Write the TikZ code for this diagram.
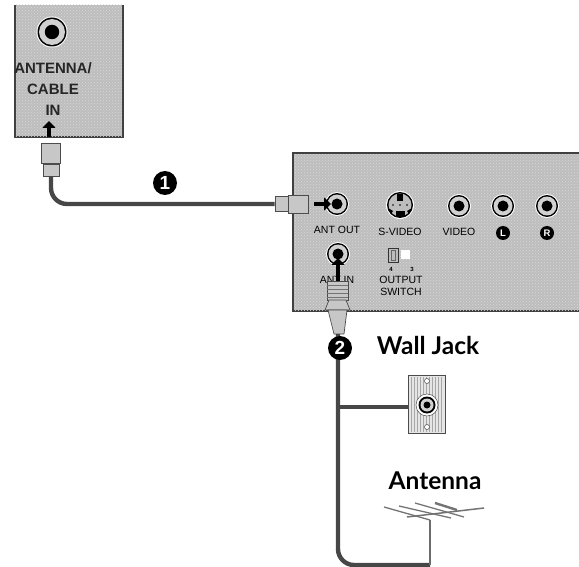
\documentclass[tikz,border=0pt]{standalone}
\usepackage{fontspec}
\setmainfont{Liberation Sans}
\newfontfamily\titlefont{Lato}
\usetikzlibrary{patterns,arrows.meta,calc}
\definecolor{panelgray}{gray}{0.74}
\definecolor{cablegray}{gray}{0.28}
\tikzset{
  panel/.style={draw=black!75,line width=1.1pt,fill=panelgray},
  cable/.style={draw=cablegray,line width=4.4pt,rounded corners=16pt},
  thincable/.style={draw=cablegray!80,line width=2.4pt},
  plug/.style={draw=black!70,line width=0.7pt,fill=black!22},
  bigarrow/.style={line width=4.5pt,-{Triangle[length=7pt,width=13pt]}},
  portlabel/.style={font=\fontsize{10.5}{11}\selectfont,inner sep=0pt},
  inlabel/.style={font=\bfseries\fontsize{15}{16}\selectfont,text=black!85,inner sep=0pt},
  titlelabel/.style={font=\titlefont\bfseries\fontsize{24.5}{26}\selectfont,inner sep=0pt},
  bigbadge/.style={circle,fill=black,text=white,inner sep=0pt,minimum size=24pt,font=\bfseries\fontsize{19}{19}\selectfont},
  smallbadge/.style={circle,fill=black,text=white,inner sep=0pt,minimum size=14pt,font=\bfseries\fontsize{9.5}{9.5}\selectfont},
  ring/.style={circle,inner sep=0pt,minimum size=#1}
}
\newcommand{\rcajack}[3]{%
  \node[ring=#3+2,fill=white] (#1) at (#2) {};
  \node[ring=#3,fill=black] at (#2) {};
  \node[ring=#3-3,fill=panelgray!70] at (#2) {};
  \node[ring=#3/2,fill=black] at (#2) {};
}
\begin{document}
\begin{tikzpicture}[x=1pt,y=-1pt]
\useasboundingbox (0,0) rectangle (579,567);
% back panel of the set
\draw[panel] (15,5) -- (15,137) -- (123,137) -- (123,5);
\fill[pattern=crosshatch dots,pattern color=white!85!black] (15.5,5) rectangle (122.5,136.5);
\rcajack{tvjack}{52,32}{29}
\node[inlabel] (antlabel) at (53,68) {ANTENNA/};
\node[inlabel] (cablelabel) at (53,89) {CABLE};
\node[inlabel] (inlabel) at (53,110) {IN};
% box panel
\draw[panel] (579,153) -- (293,153) -- (293,311) -- (579,311);
\fill[pattern=crosshatch dots,pattern color=white!85!black] (294,154) rectangle (579,310);
\rcajack{antout}{337,204}{22}
\rcajack{antin}{338,254}{22}
\rcajack{video}{459,206}{22}
\rcajack{audiol}{503,206}{22}
\rcajack{audior}{547,206}{22}
% s-video socket
\node[ring=28,fill=white] (svideo) at (400,205) {};
\node[ring=26,fill=black] at (400,205) {};
\node[ring=23,fill=panelgray] at (400,205) {};
\fill (397,194) rectangle (403,201);
\fill (396,211) rectangle (405,217);
\fill (391,214) -- (388,208) -- (393,211) -- cycle;
\fill (409,214) -- (412,208) -- (407,211) -- cycle;
\node[ring=1.8,fill=black] at (393,205) {};
\node[ring=1.8,fill=black] at (407,205) {};
\node[ring=1.8,fill=black] at (400,205) {};
\node[portlabel] (antoutlabel) at (337,230) {ANT OUT};
\node[portlabel] (svideolabel) at (400,232) {S-VIDEO};
\node[portlabel] (videolabel) at (459,232) {VIDEO};
\node[smallbadge] (llabel) at (503,233) {L};
\node[smallbadge] (rlabel) at (547,233) {R};
\node[portlabel] (antinlabel) at (337,280) {ANT IN};
\node[portlabel] (outlabel) at (401,280) {OUTPUT};
\node[portlabel] (switchlabel) at (401,292) {SWITCH};
% output switch
\node[draw=black!80,fill=panelgray,line width=0.8pt,minimum width=10pt,minimum height=14pt,inner sep=0pt] (swleft) at (393,255) {};
\node[draw=black!60,minimum width=4pt,minimum height=10pt,inner sep=0pt] at (393,255) {};
\node[fill=white,minimum width=9pt,minimum height=9pt,inner sep=0pt] (swright) at (405,255) {};
\node[font=\bfseries\fontsize{6}{6}\selectfont,inner sep=0pt] (chfour) at (391,269) {4};
\node[font=\bfseries\fontsize{6}{6}\selectfont,inner sep=0pt] (chthree) at (412,269) {3};
% wall plate
\node[draw=black!70,fill=black!10,line width=0.9pt,minimum width=37pt,minimum height=58pt,inner sep=0pt] (wallplate) at (427,404) {};
\fill[pattern=vertical lines,pattern color=black!35] (411,377) rectangle (443,431);
\node[ring=5,draw=black!70,fill=white,line width=0.5pt] (screwa) at (427,381) {};
\node[ring=5,draw=black!70,fill=white,line width=0.5pt] (screwb) at (427,427) {};
\node[ring=22,fill=white,draw=black!70,line width=0.5pt] (walljack) at (427,405) {};
\node[ring=17,fill=black] at (427,405) {};
\node[ring=13,fill=panelgray!70] at (427,405) {};
\node[ring=7,fill=black] at (427,405) {};
\node[titlelabel] (walltitle) at (428,345) {Wall Jack};
\node[titlelabel] (anttitle) at (435,481) {Antenna};
% cable 1
\node[plug,minimum width=19pt,minimum height=20pt,inner sep=0pt] (plugtop) at (51,153) {};
\node[plug,minimum width=16pt,minimum height=12pt,inner sep=0pt] (plugtopb) at (51,170) {};
\node[plug,minimum width=20pt,minimum height=18pt,inner sep=0pt] (plugout) at (298,204) {};
\node[plug,minimum width=13pt,minimum height=15pt,inner sep=0pt] (plugoutb) at (281.5,204) {};
\draw[cable] (plugtopb.south) |- (plugoutb.west);
\node[bigbadge] (one) at (165,183) {1};
\draw[bigarrow] (49,137) -- (49,121);
\draw[bigarrow] (314,204) -- (331,204);
\draw[bigarrow] (338,286) -- (338,258);
% coax plug on ant in
\coordinate (coaxtop) at (338,281);
\filldraw[plug] (327,281) rectangle (348,300);
\draw[black!55,line width=0.7pt] (327,285) -- (348,285) (327,289) -- (348,289) (327,293) -- (348,293) (327,297) -- (348,297);
\filldraw[plug] (329,300) -- (346,300) -- (350,310) -- (325,310) -- cycle;
\filldraw[plug] (328,310) -- (347,310) -- (344,334) -- (334,334) -- cycle;
\coordinate (coaxend) at (338,334);
% cable 2 and the branch to the wall plate
\coordinate (branch) at (338,407);
\coordinate (mastfoot) at (430,565);
\coordinate (masttop) at (430,520);
\draw[cable] (coaxend) |- (mastfoot);
\draw[cable] (branch) -- (wallplate.west |- branch);
\draw[thincable] (mastfoot) -- (masttop);
\node[bigbadge] (two) at (340,348) {2};
% antenna
\draw[black!55,line width=1.5pt] (407,517) -- (484,508);
\draw[black!55,line width=1.3pt] (384,507) -- (430,520) (399,506) -- (451,518) (415,503) -- (464,517);
\draw[black!55,line width=2.4pt] (435,503) -- (457,510);
\end{tikzpicture}
\end{document}
